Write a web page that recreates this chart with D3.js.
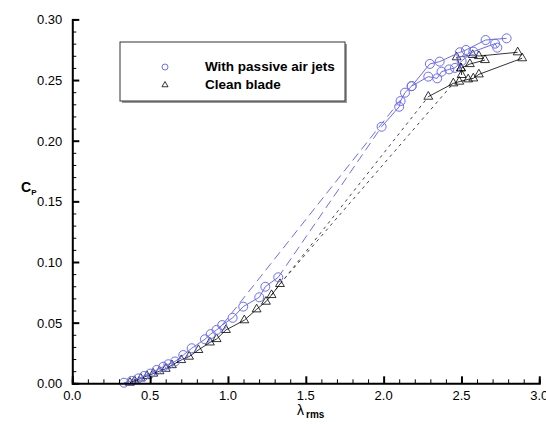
<!DOCTYPE html>
<html>
<head>
<meta charset="utf-8">
<script src="https://cdn.jsdelivr.net/npm/d3@7"></script>
<style>
  body { margin: 0; background: #fff; }
  text { font-family: "Liberation Sans", Arial, sans-serif; }
</style>
</head>
<body>
<div id="chart"></div>
<script>

// frame constants
const FRAME_WIDTH = 546;
const FRAME_HEIGHT = 425;
const PLOT = {left: 72.3, right: 539.3, top: 19.4, bottom: 383.3};

const BLUE = "#6b6bff";

// tick values
const X_TICKS = [0.0, 0.5, 1.0, 1.5, 2.0, 2.5, 3.0];
const Y_TICKS = [0.00, 0.05, 0.10, 0.15, 0.20, 0.25, 0.30];

// with passive air jets  [lambda, Cp]
const JETS_LOW = [[0.332,0.0005],[0.381,0.002],[0.424,0.004],[0.46,0.006],[0.5,0.008],
  [0.542,0.011],[0.585,0.0137],[0.617,0.0157],[0.66,0.018],[0.713,0.0233],[0.767,0.0289],
  [0.852,0.0363],[0.889,0.0406],[0.927,0.044],[0.963,0.048],[1.03,0.054],[1.098,0.0632],
  [1.201,0.0709],[1.24,0.0796],[1.323,0.0874]];
const JETS_GAP_1 = [[0.963,0.048],[2.109,0.2336]];
const JETS_GAP_2 = [[1.323,0.0874],[1.987,0.2115]];
const JETS_HIGH_1 = [[1.987,0.2115],[2.1,0.228],[2.109,0.2327],[2.137,0.2396],[2.18,0.245],
  [2.287,0.2528],[2.344,0.2514],[2.372,0.2569],[2.421,0.2588],[2.458,0.26],[2.501,0.2657],
  [2.576,0.2734],[2.716,0.28],[2.73,0.2767]];
const JETS_HIGH_2 = [[2.18,0.245],[2.297,0.2633],[2.36,0.2652],[2.49,0.2729],[2.529,0.2748],
  [2.655,0.283],[2.79,0.2844]];

// clean blade  [lambda, Cp]
const CLEAN_LOW = [[0.37,0.0005],[0.40,0.002],[0.44,0.004],[0.48,0.006],[0.52,0.008],
  [0.56,0.010],[0.60,0.012],[0.64,0.015],[0.70,0.0192],[0.75,0.022],[0.81,0.0275],
  [0.884,0.0337],[0.927,0.0365],[0.987,0.044],[1.105,0.052],[1.184,0.061],[1.244,0.0673],
  [1.28,0.0728],[1.334,0.0819]];
const CLEAN_GAP_1 = [[1.28,0.0728],[2.287,0.2363]];
const CLEAN_GAP_2 = [[1.334,0.0819],[2.448,0.2473]];
const CLEAN_HIGH_1 = [[2.287,0.2363],[2.448,0.2473],[2.486,0.2487],[2.543,0.2506],
  [2.576,0.2514],[2.612,0.2547],[2.89,0.268]];
const CLEAN_HIGH_2 = [[2.501,0.2542],[2.497,0.2597],[2.469,0.2688],[2.572,0.2707],
  [2.612,0.2698],[2.861,0.2729]];
const CLEAN_HIGH_3 = [[2.497,0.2597],[2.554,0.2632],[2.651,0.2665]];

const FRAME = d3.select("#chart")
  .append("svg")
    .attr("width", FRAME_WIDTH)
    .attr("height", FRAME_HEIGHT);

const X_SCALE = d3.scaleLinear().domain([0, 3]).range([PLOT.left, PLOT.right]);
const Y_SCALE = d3.scaleLinear().domain([0, 0.3]).range([PLOT.bottom, PLOT.top]);

const line = d3.line().x(d => X_SCALE(d[0])).y(d => Y_SCALE(d[1]));

// dashed gap lines
[JETS_GAP_1, JETS_GAP_2].forEach(s => {
  FRAME.append("path").attr("d", line(s))
    .attr("fill", "none").attr("stroke", BLUE).attr("stroke-width", 1)
    .attr("stroke-dasharray", "9,5");
});
[CLEAN_GAP_1, CLEAN_GAP_2].forEach(s => {
  FRAME.append("path").attr("d", line(s))
    .attr("fill", "none").attr("stroke", "#444").attr("stroke-width", 1)
    .attr("stroke-dasharray", "3,4");
});

// clean blade lines + triangles
const CLEAN_ALL = [CLEAN_LOW, CLEAN_HIGH_1, CLEAN_HIGH_2, CLEAN_HIGH_3];
CLEAN_ALL.forEach(s => {
  FRAME.append("path").attr("d", line(s))
    .attr("fill", "none").attr("stroke", "#000").attr("stroke-width", 0.8);
});
const tri = d3.symbol().type(d3.symbolTriangle).size(34);
CLEAN_ALL.forEach(s => {
  FRAME.append("g").selectAll("path")
    .data(s).enter().append("path")
      .attr("d", tri)
      .attr("transform", d => "translate(" + X_SCALE(d[0]) + "," + Y_SCALE(d[1]) + ")")
      .attr("fill", "none").attr("stroke", "#000").attr("stroke-width", 0.8);
});

// jets lines + circles
const JETS_ALL = [JETS_LOW, JETS_HIGH_1, JETS_HIGH_2];
JETS_ALL.forEach(s => {
  FRAME.append("path").attr("d", line(s))
    .attr("fill", "none").attr("stroke", BLUE).attr("stroke-width", 1);
});
JETS_ALL.forEach(s => {
  FRAME.append("g").selectAll("circle")
    .data(s).enter().append("circle")
      .attr("cx", d => X_SCALE(d[0]))
      .attr("cy", d => Y_SCALE(d[1]))
      .attr("r", 4.5)
      .attr("fill", "none").attr("stroke", BLUE).attr("stroke-width", 1);
});

// x axis (ticks pointing inward)
const xAxis = FRAME.append("g")
  .attr("transform", "translate(0," + PLOT.bottom + ")")
  .call(d3.axisBottom(X_SCALE).tickValues(d3.range(0, 3.01, 0.1))
    .tickSize(-4).tickFormat(""));
xAxis.selectAll(".tick line").attr("stroke", "#000");
xAxis.selectAll(".tick")
  .filter(d => X_TICKS.some(t => Math.abs(t - d) < 1e-6))
  .select("line").attr("y2", -7).attr("stroke-width", 2);
xAxis.select(".domain").attr("stroke-width", 2);
FRAME.append("g").selectAll("text")
  .data(X_TICKS).enter().append("text")
    .attr("x", d => X_SCALE(d))
    .attr("y", PLOT.bottom + 17)
    .attr("text-anchor", "middle")
    .attr("font-size", 13)
    .text(d => d.toFixed(1));

// y axis
const yAxis = FRAME.append("g")
  .attr("transform", "translate(" + PLOT.left + ",0)")
  .call(d3.axisLeft(Y_SCALE).tickValues(d3.range(0, 0.3001, 0.01))
    .tickSize(-4).tickFormat(""));
yAxis.selectAll(".tick line").attr("stroke", "#000");
yAxis.selectAll(".tick")
  .filter(d => Y_TICKS.some(t => Math.abs(t - d) < 1e-6))
  .select("line").attr("x2", 7).attr("stroke-width", 2);
yAxis.select(".domain").attr("stroke-width", 2);
FRAME.append("g").selectAll("text")
  .data(Y_TICKS).enter().append("text")
    .attr("x", PLOT.left - 10)
    .attr("y", d => Y_SCALE(d) + 5)
    .attr("text-anchor", "end")
    .attr("font-size", 13)
    .text(d => d.toFixed(2));

// axis titles
const xt = FRAME.append("text")
  .attr("x", 297).attr("y", 415)
  .attr("font-size", 14);
xt.append("tspan").text("λ");
xt.append("tspan").attr("dy", 3).attr("dx", 2).attr("font-size", 10)
  .attr("font-weight", "bold").text("rms");

const yt = FRAME.append("text")
  .attr("x", 21).attr("y", 192)
  .attr("font-size", 14).attr("font-weight", "bold");
yt.append("tspan").text("C");
yt.append("tspan").attr("dy", 3).attr("font-size", 8).text("P");

// legend
const LEGEND_LABELS = ["With passive air jets", "Clean blade"];
FRAME.append("rect")
  .attr("x", 122).attr("y", 44).attr("width", 225).attr("height", 59)
  .attr("fill", "#999");
FRAME.append("rect")
  .attr("x", 120).attr("y", 42).attr("width", 225).attr("height", 59)
  .attr("fill", "#fff").attr("stroke", "#333").attr("stroke-width", 1);
FRAME.append("circle")
  .attr("cx", 165).attr("cy", 67).attr("r", 3)
  .attr("fill", "none").attr("stroke", BLUE).attr("stroke-width", 1);
FRAME.append("path")
  .attr("d", d3.symbol().type(d3.symbolTriangle).size(16))
  .attr("transform", "translate(165,85)")
  .attr("fill", "none").attr("stroke", "#000").attr("stroke-width", 0.8);
FRAME.append("g").selectAll("text")
  .data(LEGEND_LABELS).enter().append("text")
    .attr("x", 205)
    .attr("y", (d, i) => 71 + i * 18)
    .attr("font-size", 13.5)
    .attr("font-weight", "bold")
    .text(d => d);

</script>
</body>
</html>
